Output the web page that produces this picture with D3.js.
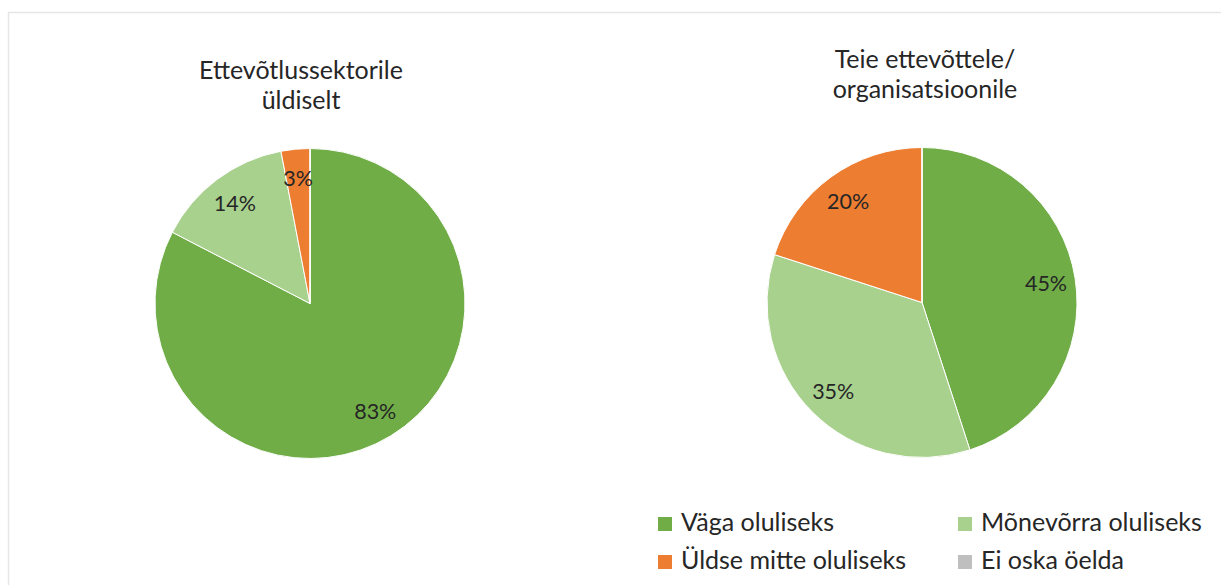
<!DOCTYPE html>
<html>
<head>
<meta charset="utf-8">
<script src="https://cdn.jsdelivr.net/npm/d3@7"></script>
<style>
  body { margin: 0; background: #fff; }
  text { font-family: Lato, "Open Sans", sans-serif; fill: #262626; }
</style>
</head>
<body>
<div id="chart"></div>
<script>
// Categories and colours
var categories = ["Väga oluliseks", "Mõnevõrra oluliseks", "Üldse mitte oluliseks", "Ei oska öelda"];
var colors = ["#70ad47", "#a9d18e", "#ed7d31", "#bfbfbf"];

// Share of answers (%) for each pie
var sectorValues = [82.6, 14.4, 3.0, 0];
var companyValues = [45, 35, 20, 0];

// Pie titles
var sectorTitle = ["Ettevõtlussektorile", "üldiselt"];
var companyTitle = ["Teie ettevõttele/", "organisatsioonile"];

var width = 1221, height = 585;
var radius = 155;

var svg = d3.select("#chart").append("svg")
  .attr("width", width)
  .attr("height", height);

// light frame of the chart area
svg.append("path")
  .attr("d", "M8.5," + height + "V12.5H" + width)
  .attr("fill", "none")
  .attr("stroke", "#e6e6e6")
  .attr("stroke-width", 1.5);

var color = d3.scaleOrdinal().domain(categories).range(colors);
var pie = d3.pie().sort(null).value(function(d) { return d.value; });
var arc = d3.arc().innerRadius(0).outerRadius(radius);
var labelArc = d3.arc().innerRadius(radius * 0.81).outerRadius(radius * 0.81);
var fmt = d3.format(".0f");

function drawPie(values, title, cx, cy, titleX, titleY) {
  var data = categories.map(function(c, i) { return {name: c, value: values[i]}; });
  var g = svg.append("g").attr("transform", "translate(" + cx + "," + cy + ")");

  g.selectAll("path")
    .data(pie(data))
    .enter()
    .append("path")
    .attr("d", arc)
    .attr("fill", function(d) { return color(d.data.name); })
    .attr("stroke", "#fff")
    .attr("stroke-width", 1);

  g.selectAll(".label")
    .data(pie(data).filter(function(d) { return d.data.value > 0; }))
    .enter()
    .append("text")
    .attr("class", "label")
    .attr("transform", function(d) { return "translate(" + labelArc.centroid(d) + ")"; })
    .attr("text-anchor", "middle")
    .attr("dy", "0.36em")
    .style("font-size", "21.5px")
    .text(function(d) { return fmt(d.data.value) + "%"; });

  var t = svg.append("text")
    .attr("text-anchor", "middle")
    .style("font-size", "25px");
  t.selectAll("tspan")
    .data(title)
    .enter()
    .append("tspan")
    .attr("x", titleX)
    .attr("y", function(d, i) { return titleY + i * 29.5; })
    .text(function(d) { return d; });
}

drawPie(sectorValues, sectorTitle, 310, 303.5, 301, 79);
drawPie(companyValues, companyTitle, 922, 302.5, 925, 68);

// Legend
var legend = svg.selectAll(".legend")
  .data(categories)
  .enter()
  .append("g")
  .attr("class", "legend")
  .attr("transform", function(d, i) {
    var x = 658 + (i % 2) * 300;
    var y = 517 + Math.floor(i / 2) * 38;
    return "translate(" + x + "," + y + ")";
  });

legend.append("rect")
  .attr("width", 14)
  .attr("height", 14)
  .attr("fill", function(d) { return color(d); });

legend.append("text")
  .attr("x", 23)
  .attr("y", 14)
  .style("font-size", "25px")
  .text(function(d) { return d; });
</script>
</body>
</html>
